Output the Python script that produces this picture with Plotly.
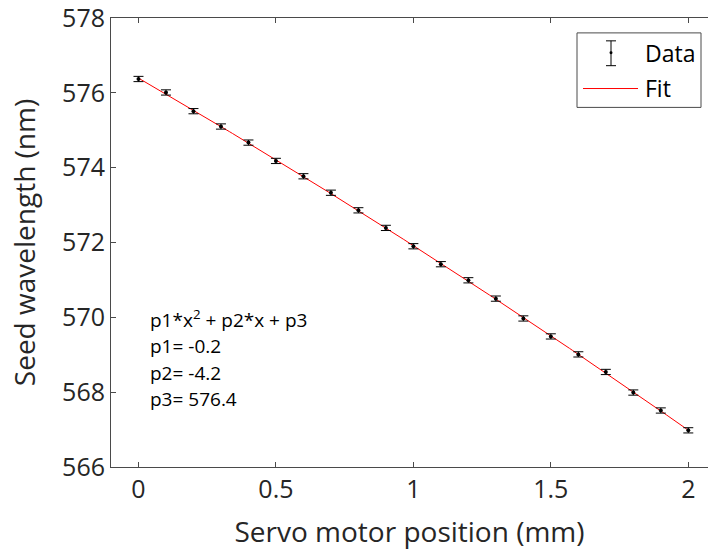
import numpy as np
import plotly.graph_objects as go

# Servo motor position (mm)
position = [0.0, 0.1, 0.2, 0.3, 0.4, 0.5, 0.6, 0.7, 0.8, 0.9, 1.0,
            1.1, 1.2, 1.3, 1.4, 1.5, 1.6, 1.7, 1.8, 1.9, 2.0]
# Measured seed wavelength (nm)
wavelength = [576.37, 576.01, 575.51, 575.10, 574.67, 574.18, 573.77,
              573.33, 572.86, 572.39, 571.90, 571.42, 570.99, 570.50,
              569.97, 569.49, 569.01, 568.54, 567.99, 567.51, 566.98]
# Measurement uncertainty (nm)
wavelength_err = [0.07] * len(position)

x_ticks = [0, 0.5, 1, 1.5, 2]
x_tick_text = ["0", "0.5", "1", "1.5", "2"]
y_ticks = [566, 568, 570, 572, 574, 576, 578]

# Quadratic fit p1*x^2 + p2*x + p3
coeffs = np.polyfit(position, wavelength, 2)
x_fit = np.linspace(min(position), max(position), 200)
y_fit = np.polyval(coeffs, x_fit)

FONT = "Open Sans"
AX_COLOR = "#4a4a4a"
TXT_COLOR = "#262626"

W, H = 708, 554
L, R, T, B = 111, 0, 15, 87
PW, PH = W - L - R, H - T - B


def px(xp):
    return (xp - L) / PW


def py(yp):
    return (H - B - yp) / PH


fig = go.Figure()

fig.add_trace(go.Scatter(
    x=x_fit, y=y_fit, mode="lines",
    line=dict(color="#ff0000", width=1),
    name="Fit", showlegend=False, hoverinfo="skip",
))

fig.add_trace(go.Scatter(
    x=position, y=wavelength, mode="markers",
    marker=dict(color="black", size=4),
    error_y=dict(type="data", array=wavelength_err, visible=True,
                 color="black", thickness=1, width=5),
    name="Data", showlegend=False,
))

shapes = []
annotations = []

# legend box
shapes.append(dict(type="rect", xref="paper", yref="paper",
                   x0=px(577), x1=px(701), y0=py(105), y1=py(30),
                   line=dict(color=AX_COLOR, width=1), fillcolor="white"))
# legend: error bar glyph
shapes.append(dict(type="line", xref="paper", yref="paper",
                   x0=px(611), x1=px(611), y0=py(63), y1=py(38),
                   line=dict(color="black", width=1)))
for yy in (38, 63):
    shapes.append(dict(type="line", xref="paper", yref="paper",
                       x0=px(606), x1=px(616), y0=py(yy), y1=py(yy),
                       line=dict(color="black", width=1)))
shapes.append(dict(type="circle", xref="paper", yref="paper",
                   x0=px(609.5), x1=px(612.5), y0=py(51.5), y1=py(48.5),
                   line=dict(color="black", width=0), fillcolor="black"))
# legend: fit line glyph
shapes.append(dict(type="line", xref="paper", yref="paper",
                   x0=px(583), x1=px(638), y0=py(86), y1=py(86),
                   line=dict(color="#ff0000", width=1)))

annotations.append(dict(text="Data", xref="paper", yref="paper",
                        x=px(643), y=py(50), xanchor="left", yanchor="middle",
                        showarrow=False, font=dict(family=FONT, size=23, color="black")))
annotations.append(dict(text="Fit", xref="paper", yref="paper",
                        x=px(643), y=py(85), xanchor="left", yanchor="middle",
                        showarrow=False, font=dict(family=FONT, size=23, color="black")))

# fit equation and coefficients
eq_lines = [
    ("p1*x<sup>2</sup> + p2*x + p3", 318),
    (f"p1= {coeffs[0]:.1f}", 345),
    (f"p2= {coeffs[1]:.1f}", 372),
    (f"p3= {coeffs[2]:.1f}", 399),
]
for txt, yy in eq_lines:
    annotations.append(dict(text=txt, xref="paper", yref="paper",
                            x=px(148), y=py(yy), xanchor="left", yanchor="middle",
                            showarrow=False,
                            font=dict(family=FONT, size=19, color="black")))

fig.update_layout(
    width=W, height=H,
    margin=dict(l=L, r=R, t=T, b=B, pad=0),
    paper_bgcolor="white", plot_bgcolor="white",
    font=dict(family=FONT, color=TXT_COLOR),
    shapes=shapes, annotations=annotations,
    xaxis=dict(
        range=[-0.1, -0.1 + PW / 274.9],
        tickvals=x_ticks, ticktext=x_tick_text,
        ticks="inside", ticklen=5, tickwidth=1, tickcolor=AX_COLOR,
        showline=True, linecolor=AX_COLOR, linewidth=1, mirror="ticks",
        showgrid=False, zeroline=False, ticklabeloverflow="allow",
        tickfont=dict(family=FONT, size=25, color=TXT_COLOR),
        title=dict(text="Servo motor position (mm)", standoff=18,
                   font=dict(family=FONT, size=28, color=TXT_COLOR)),
    ),
    yaxis=dict(
        range=[566, 578],
        tickvals=y_ticks,
        ticks="inside", ticklen=5, tickwidth=1, tickcolor=AX_COLOR,
        showline=True, linecolor=AX_COLOR, linewidth=1, mirror=False,
        showgrid=False, zeroline=False, ticklabeloverflow="allow",
        tickfont=dict(family=FONT, size=25, color=TXT_COLOR),
        title=dict(text="Seed wavelength (nm)", standoff=18,
                   font=dict(family=FONT, size=28, color=TXT_COLOR)),
    ),
)

fig.write_html("out.html")
